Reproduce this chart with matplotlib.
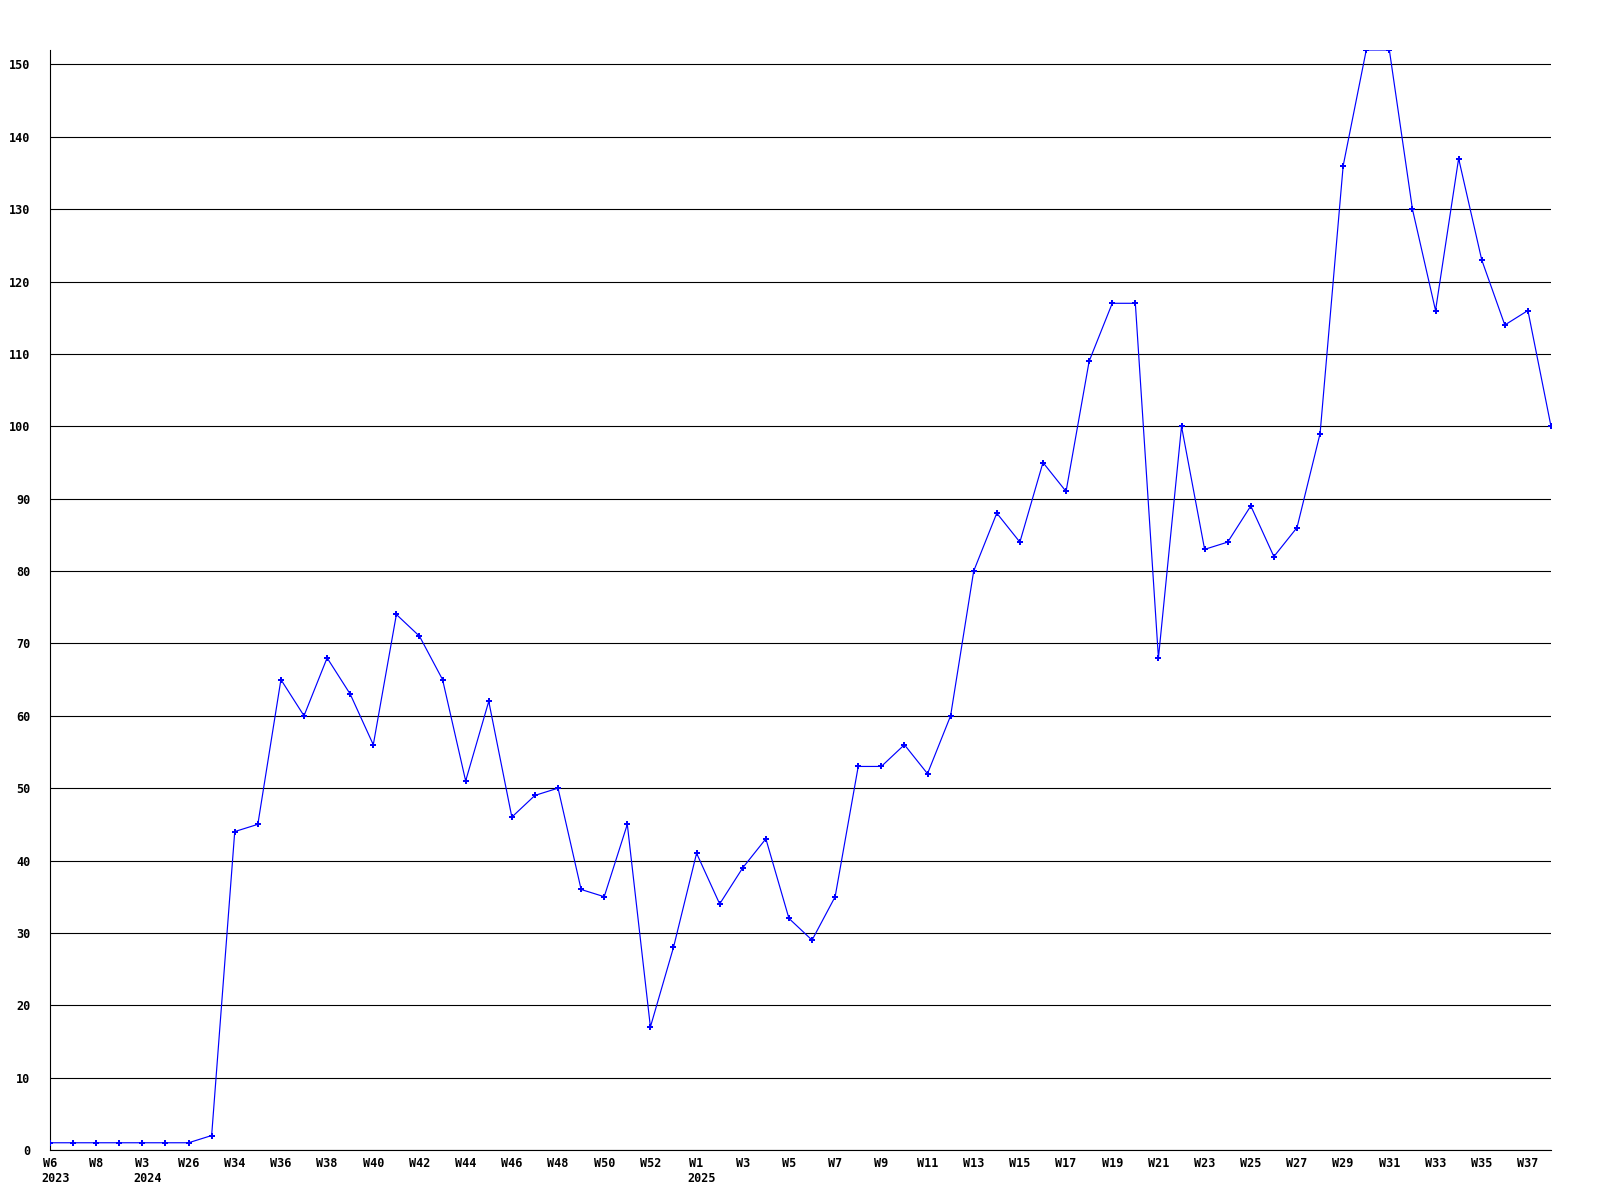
import numpy as np
import matplotlib
matplotlib.use("Agg")
import matplotlib.pyplot as plt
import matplotlib.transforms as mtransforms

# weekly values
weeks = ["W6", "W7", "W8", "W9", "W3", "W4", "W26", "W27",
         "W34", "W35", "W36", "W37", "W38", "W39", "W40", "W41", "W42", "W43",
         "W44", "W45", "W46", "W47", "W48", "W49", "W50", "W51", "W52", "W53",
         "W1", "W2", "W3", "W4", "W5", "W6", "W7", "W8", "W9", "W10",
         "W11", "W12", "W13", "W14", "W15", "W16", "W17", "W18", "W19", "W20",
         "W21", "W22", "W23", "W24", "W25", "W26", "W27", "W28", "W29", "W30",
         "W31", "W32", "W33", "W34", "W35", "W36", "W37", "W38"]
values = [1, 1, 1, 1, 1, 1, 1, 2,
          44, 45, 65, 60, 68, 63, 56, 74, 71, 65,
          51, 62, 46, 49, 50, 36, 35, 45, 17, 28,
          41, 34, 39, 43, 32, 29, 35, 53, 53, 56,
          52, 60, 80, 88, 84, 95, 91, 109, 117, 117,
          68, 100, 83, 84, 89, 82, 86, 99, 136, 152,
          152, 130, 116, 137, 123, 114, 116, 100]
year_pos = [0, 4, 28]
year_labels = ["2023", "2024", "2025"]
yticks = list(range(0, 151, 10))

fig = plt.figure(figsize=(16, 12), dpi=100)
ax = fig.add_axes([50/1600, 50/1200, (1551-50)/1600, (1150-50)/1200])

x = np.arange(len(values))
ax.plot(x, values, color="#0000ff", lw=0.85, marker="P", ms=4, mew=0, zorder=3)

ax.set_xlim(0, len(values) - 1)
ax.set_ylim(0, 152)
ax.set_yticks(yticks)
ax.set_xticks(x[::2])
ax.set_xticklabels(weeks[::2])
ax.grid(axis="y", color="black", lw=0.8)
ax.set_axisbelow(True)
ax.tick_params(length=0, labelsize=8.5)
for lab in ax.get_xticklabels() + ax.get_yticklabels():
    lab.set_fontfamily("DejaVu Sans Mono")
    lab.set_fontweight("bold")
ax.tick_params(axis="y", pad=14)
ax.tick_params(axis="x", pad=5)
for s in ["top", "right"]:
    ax.spines[s].set_visible(False)
ax.spines["left"].set_linewidth(0.8)
ax.spines["bottom"].set_linewidth(0.8)

# year line under the week labels, left aligned with them
trans = ax.get_xaxis_transform() + mtransforms.ScaledTranslation(-9/100, -28/100, fig.dpi_scale_trans)
for p, yl in zip(year_pos, year_labels):
    ax.text(p, 0, yl, transform=trans, ha="left", va="center", fontsize=8.5,
            fontfamily="DejaVu Sans Mono", fontweight="bold")

fig.savefig("out.png", dpi=100)
